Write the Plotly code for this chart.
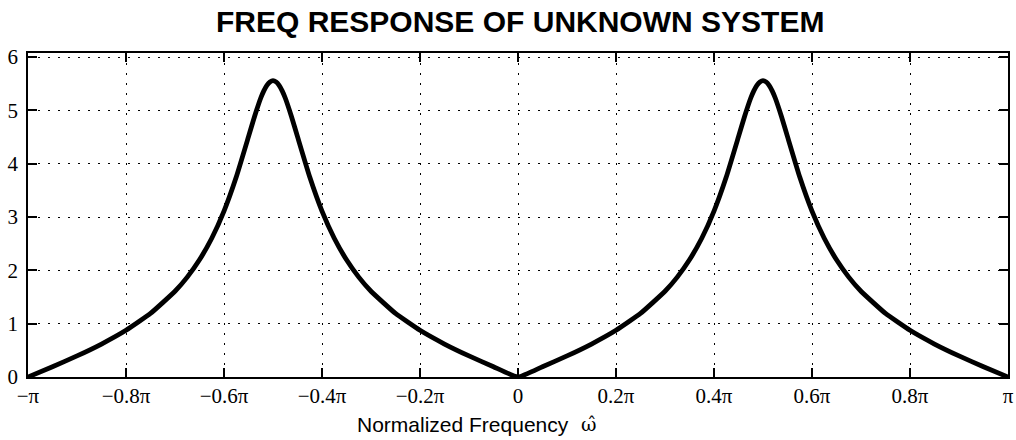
import numpy as np
import plotly.graph_objects as go

# Frequency in units of pi, and magnitude
omega_over_pi = [-1.0, -0.95, -0.9, -0.85, -0.8, -0.75, -0.7, -0.675, -0.65, -0.625, -0.6,
                 -0.575, -0.55, -0.5375, -0.525, -0.51875, -0.5125, -0.50625, -0.5,
                 -0.49375, -0.4875, -0.48125, -0.475, -0.4625,
                 -0.45, -0.425, -0.4, -0.375, -0.35, -0.325, -0.3, -0.25, -0.2, -0.15,
                 -0.1, -0.05, 0.0, 0.05, 0.1, 0.15, 0.2, 0.25, 0.3, 0.325, 0.35, 0.375,
                 0.4, 0.425, 0.45, 0.4625, 0.475, 0.48125, 0.4875, 0.49375, 0.5,
                 0.50625, 0.5125, 0.51875, 0.525, 0.5375,
                 0.55, 0.575, 0.6, 0.625, 0.65, 0.675, 0.7, 0.75, 0.8, 0.85, 0.9, 0.95, 1.0]
magnitude = [0.0, 0.193, 0.395, 0.618, 0.875, 1.191, 1.607, 1.873, 2.198, 2.601, 3.110,
             3.749, 4.506, 4.890, 5.231, 5.365, 5.469, 5.533, 5.556,
             5.533, 5.469, 5.365, 5.231, 4.890,
             4.506, 3.749, 3.110, 2.601, 2.198, 1.873, 1.607, 1.191, 0.875, 0.618,
             0.395, 0.193, 0.0, 0.193, 0.395, 0.618, 0.875, 1.191, 1.607, 1.873, 2.198, 2.601,
             3.110, 3.749, 4.506, 4.890, 5.231, 5.365, 5.469, 5.533, 5.556,
             5.533, 5.469, 5.365, 5.231, 4.890,
             4.506, 3.749, 3.110, 2.601, 2.198, 1.873, 1.607, 1.191, 0.875, 0.618, 0.395, 0.193, 0.0]

x_tick_fracs = [-1.0, -0.8, -0.6, -0.4, -0.2, 0.0, 0.2, 0.4, 0.6, 0.8, 1.0]
x_tick_labels = ["−π", "−0.8π", "−0.6π", "−0.4π", "−0.2π", "0", "0.2π", "0.4π", "0.6π", "0.8π", "π"]
y_ticks = [0, 1, 2, 3, 4, 5, 6]

title_text = "FREQ RESPONSE OF UNKNOWN SYSTEM"
xlabel_text = "Normalized Frequency"
xlabel_symbol = "ω\u0302"

omega = [f * np.pi for f in omega_over_pi]
x_tickvals = [f * np.pi for f in x_tick_fracs]

fig = go.Figure()
fig.add_trace(go.Scatter(
    x=omega, y=magnitude, mode="lines",
    line=dict(color="black", width=4.8, shape="spline", smoothing=0.4),
    hoverinfo="skip", showlegend=False,
))

axis_common = dict(
    showline=True, linecolor="black", linewidth=1.8, mirror="ticks",
    ticks="inside", tickcolor="black", ticklen=9, tickwidth=1.5,
    showgrid=True, gridcolor="black", gridwidth=1, griddash="2px,8px",
    zeroline=False, automargin=False,
    tickfont=dict(family="Liberation Serif", size=21, color="black"),
)

# plot area: left 28, right 1008, top 53, bottom 377 (px)
PL, PR, PT, PB = 28, 1008, 53, 377
W, H = 1016, 440


def px_x(px):
    return (px - PL) / (PR - PL)


def px_y(py):
    return (PB - py) / (PB - PT)


fig.update_layout(
    width=W, height=H,
    margin=dict(l=PL, r=W - PR, t=PT, b=H - PB, autoexpand=False),
    paper_bgcolor="white", plot_bgcolor="white",
    xaxis=dict(range=[-np.pi, np.pi], tickvals=x_tickvals, ticktext=x_tick_labels,
               ticklabelstandoff=-1, **axis_common),
    yaxis=dict(range=[0, 6.075], tickvals=y_ticks, ticktext=[str(v) for v in y_ticks],
               ticklabelstandoff=4, **axis_common),
    annotations=[
        dict(text="<b>" + title_text + "</b>", xref="paper", yref="paper",
             x=px_x(520), y=px_y(21), xanchor="center", yanchor="middle", showarrow=False,
             font=dict(family="Liberation Sans", size=30, color="black")),
        dict(text=xlabel_text, xref="paper", yref="paper",
             x=px_x(355), y=px_y(424), xanchor="left", yanchor="middle", showarrow=False,
             font=dict(family="Liberation Sans", size=21, color="black")),
        dict(text=xlabel_symbol, xref="paper", yref="paper",
             x=px_x(589), y=px_y(424), xanchor="center", yanchor="middle", showarrow=False,
             font=dict(family="DejaVu Serif", size=19, color="black")),
    ],
)

fig.write_html("out.html", config={"displayModeBar": False},
               post_script="document.body.style.margin='0';document.body.style.overflow='hidden';")
